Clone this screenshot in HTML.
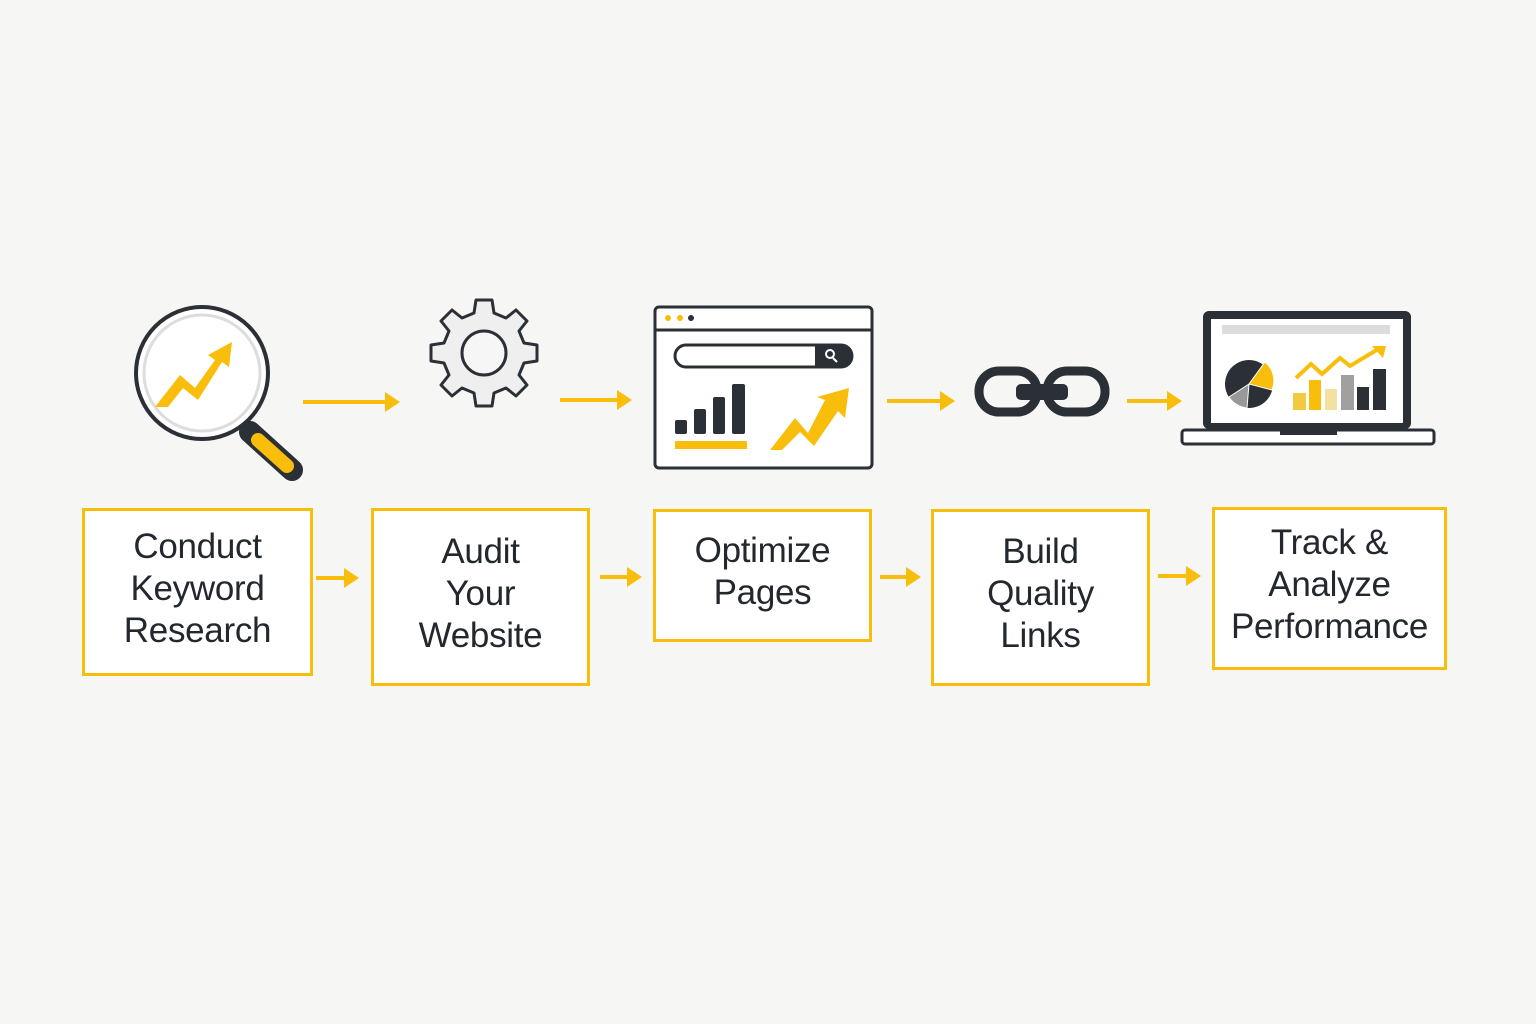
<!DOCTYPE html>
<html><head><meta charset="utf-8"><style>
body{margin:0;width:1536px;height:1024px;background:#f6f6f5;overflow:hidden;position:relative;font-family:"Liberation Sans",sans-serif}
.b{position:absolute;border:3px solid #f9bd0b;background:#fff;box-sizing:border-box;display:flex;align-items:center;justify-content:center;text-align:center;color:#23272e;font-size:35px;line-height:42px;letter-spacing:-0.3px;padding-bottom:7px}
svg{position:absolute;left:0;top:0}
</style></head><body>
<svg width="1536" height="1024" viewBox="0 0 1536 1024">
<g fill="#f9bd0b" stroke="#f9bd0b" stroke-width="4">
<line x1="303" y1="402" x2="388" y2="402"/><path d="M385 392L400 402L385 412Z" stroke="none"/>
<line x1="560" y1="400" x2="620" y2="400"/><path d="M617 390L632 400L617 410Z" stroke="none"/>
<line x1="887" y1="401" x2="943" y2="401"/><path d="M940 391L955 401L940 411Z" stroke="none"/>
<line x1="1127" y1="401" x2="1170" y2="401"/><path d="M1167 391L1182 401L1167 411Z" stroke="none"/>
<line x1="316" y1="578" x2="347" y2="578"/><path d="M344 568L359 578L344 588Z" stroke="none"/>
<line x1="600" y1="577" x2="630" y2="577"/><path d="M627 567L642 577L627 587Z" stroke="none"/>
<line x1="880" y1="577" x2="909" y2="577"/><path d="M906 567L921 577L906 587Z" stroke="none"/>
<line x1="1158" y1="576" x2="1189" y2="576"/><path d="M1186 566L1201 576L1186 586Z" stroke="none"/>
</g>
<line x1="250" y1="432" x2="292" y2="470" stroke="#2b2f36" stroke-width="22" stroke-linecap="round"/>
<line x1="258" y1="440" x2="287" y2="466" stroke="#f9bd0b" stroke-width="14" stroke-linecap="round"/>
<circle cx="202" cy="373" r="66" fill="#fff" stroke="#2b2f36" stroke-width="4"/>
<circle cx="202" cy="373" r="58" fill="none" stroke="#ddd" stroke-width="3"/>
<path d="M155 407L180 375L195 388L215 360L208 355L232 342L229 367L222 362L198 400L183 388L168 407Z" fill="#f9bd0b"/>
<g transform="translate(484,353)">
<path d="M-8 -53L8 -53L10 -40L22 -35L32 -43L43 -32L35 -22L40 -10L53 -8L53 8L40 10L35 22L43 32L32 43L22 35L10 40L8 53L-8 53L-10 40L-22 35L-32 43L-43 32L-35 22L-40 10L-53 8L-53 -8L-40 -10L-35 -22L-43 -32L-32 -43L-22 -35L-10 -40Z" fill="#efefef" stroke="#2b2f36" stroke-width="3" stroke-linejoin="round"/>
<circle r="22" fill="#f6f6f6" stroke="#2b2f36" stroke-width="3"/>
</g>
<rect x="655" y="307" width="217" height="161" rx="4" fill="#fff" stroke="#2b2f36" stroke-width="3"/>
<line x1="655" y1="330" x2="872" y2="330" stroke="#2b2f36" stroke-width="3"/>
<circle cx="668" cy="318" r="3" fill="#f9bd0b"/><circle cx="680" cy="318" r="3" fill="#f9bd0b"/><circle cx="691" cy="318" r="3" fill="#2b2f36"/>
<rect x="675" y="345" width="177" height="22" rx="11" fill="#fff" stroke="#2b2f36" stroke-width="3"/>
<path d="M815 345H841A11 11 0 0 1 841 367H815Z" fill="#2b2f36"/>
<circle cx="830" cy="354" r="4" fill="none" stroke="#fff" stroke-width="2"/><line x1="833" y1="358" x2="837" y2="362" stroke="#fff" stroke-width="2"/>
<g fill="#2b2f36"><rect x="675" y="420" width="12" height="14" rx="2"/><rect x="694" y="409" width="12" height="25" rx="2"/><rect x="713" y="397" width="12" height="37" rx="2"/><rect x="732" y="384" width="13" height="50" rx="2"/></g>
<rect x="675" y="441" width="72" height="8" fill="#f9bd0b"/>
<path d="M770 450L795 418L808 433L825 400L817 397L849 388L845 418L838 411L814 446L800 432L782 450Z" fill="#f9bd0b"/>
<rect x="979" y="371" width="58" height="41" rx="20" fill="none" stroke="#2b2f36" stroke-width="9"/>
<rect x="1047" y="371" width="58" height="41" rx="20" fill="none" stroke="#2b2f36" stroke-width="9"/>
<rect x="1016" y="384" width="52" height="16" rx="5" fill="#2b2f36"/>
<rect x="1203" y="311" width="208" height="118" rx="6" fill="#2b2f36"/>
<rect x="1211" y="319" width="192" height="104" fill="#fff"/>
<rect x="1222" y="325" width="168" height="9" fill="#dcdcdc"/>
<rect x="1182" y="430" width="252" height="14" rx="3" fill="#fff" stroke="#2b2f36" stroke-width="3"/>
<rect x="1280" y="430" width="57" height="5" fill="#2b2f36"/>
<circle cx="1249" cy="384" r="24" fill="#2b2f36"/>
<path d="M1249 384L1265 362A24 24 0 0 1 1272 390Z" fill="#f9bd0b" stroke="#fff" stroke-width="1"/>
<path d="M1249 384L1229 397A24 24 0 0 0 1247 408Z" fill="#999" stroke="#fff" stroke-width="1"/>
<g><rect x="1293" y="393" width="13" height="17" fill="#f5c842"/><rect x="1309" y="380" width="12" height="30" fill="#f9bd0b"/><rect x="1325" y="389" width="12" height="21" fill="#f3e1a0"/><rect x="1341" y="375" width="13" height="35" fill="#a0a0a0"/><rect x="1357" y="387" width="12" height="23" fill="#2b2f36"/><rect x="1373" y="369" width="13" height="41" fill="#2b2f36"/></g>
<polyline points="1296,378 1311,364 1322,374 1340,358 1350,366 1380,348" fill="none" stroke="#f9bd0b" stroke-width="4"/>
<path d="M1372 346L1386 346L1383 358Z" fill="#f9bd0b"/>
</svg>
<div class="b" style="left:82px;top:508px;width:231px;height:168px">Conduct<br>Keyword<br>Research</div>
<div class="b" style="left:371px;top:508px;width:219px;height:178px">Audit<br>Your<br>Website</div>
<div class="b" style="left:653px;top:509px;width:219px;height:133px">Optimize<br>Pages</div>
<div class="b" style="left:931px;top:509px;width:219px;height:177px">Build<br>Quality<br>Links</div>
<div class="b" style="left:1212px;top:507px;width:235px;height:163px">Track &amp;<br>Analyze<br>Performance</div>
</body></html>
